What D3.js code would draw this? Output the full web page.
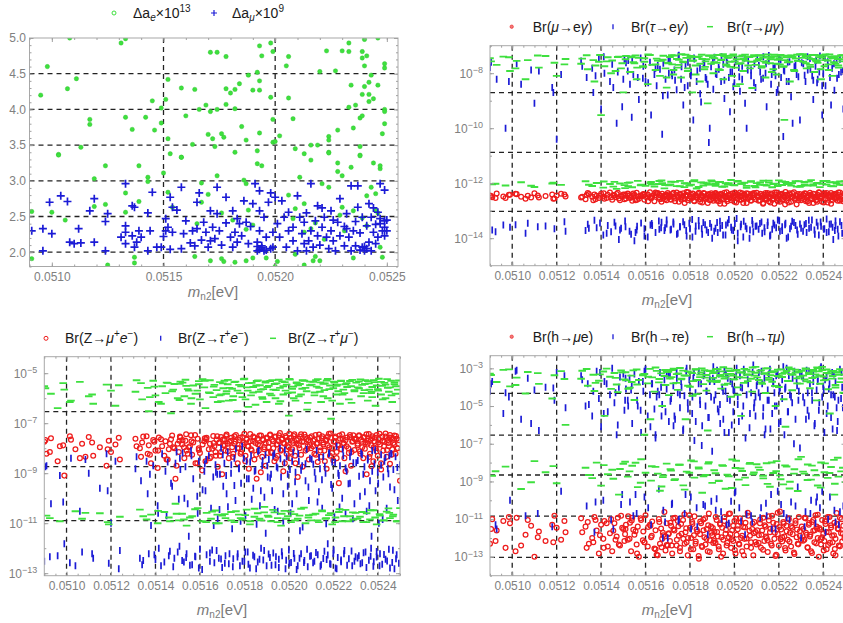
<!DOCTYPE html>
<html>
<head>
<meta charset="utf-8">
<script src="https://cdnjs.cloudflare.com/ajax/libs/d3/7.8.5/d3.min.js"></script>
<style>
body { margin: 0; background: #fff; }
text { font-family: "Liberation Sans", Arial, sans-serif; }
</style>
</head>
<body>
<script>
// ---- top-left panel: [m_n2, value] pairs
var aeData = [[0.05108,5.0],[0.05131,4.93],[0.05133,4.99],[0.05098,4.60],[0.05095,4.20],[0.05107,4.29],[0.05111,4.43],[0.05117,3.86],[0.05117,3.79],[0.05133,3.89],[0.05136,3.72],[0.05142,3.89],[0.05145,4.12],[0.05146,3.71],[0.05149,3.81],[0.05149,4.02],[0.05151,4.14],[0.05152,4.42],[0.05152,3.59],[0.05153,3.38],[0.05158,4.30],[0.05160,3.91],[0.05163,3.51],[0.05164,4.28],[0.05158,3.33],[0.05166,4.00],[0.05169,4.06],[0.05170,3.65],[0.05171,3.97],[0.05171,4.80],[0.05174,4.80],[0.05174,4.00],[0.05172,3.59],[0.05173,3.48],[0.05176,3.66],[0.05178,4.29],[0.05178,4.74],[0.05178,4.07],[0.05177,3.61],[0.05180,4.23],[0.05182,4.28],[0.05182,4.01],[0.05184,4.36],[0.05185,3.76],[0.05187,3.57],[0.05188,4.48],[0.05190,4.27],[0.05192,4.52],[0.05193,4.89],[0.05193,4.40],[0.05193,4.27],[0.05194,4.75],[0.05193,3.67],[0.05192,3.42],[0.05198,4.17],[0.05198,4.93],[0.05199,4.81],[0.05199,3.86],[0.05199,3.54],[0.05200,3.55],[0.05202,3.63],[0.05205,4.61],[0.05206,4.74],[0.05206,4.16],[0.05208,3.87],[0.05209,3.45],[0.05213,3.38],[0.05216,3.50],[0.05219,3.50],[0.05220,4.53],[0.05223,4.82],[0.05227,4.54],[0.05228,3.71],[0.05224,3.62],[0.05224,3.57],[0.05224,3.40],[0.05230,4.82],[0.05233,4.93],[0.05233,4.81],[0.05233,4.03],[0.05234,4.34],[0.05235,3.74],[0.05236,4.06],[0.05238,3.88],[0.05238,3.48],[0.05238,3.36],[0.05239,4.21],[0.05239,4.81],[0.05239,4.72],[0.05240,4.61],[0.05239,3.91],[0.05240,4.32],[0.05240,4.98],[0.05241,4.75],[0.05242,4.38],[0.05242,4.11],[0.05242,4.21],[0.05243,4.48],[0.05244,4.15],[0.05246,5.0],[0.05246,4.34],[0.05248,3.66],[0.05249,3.80],[0.05249,4.64],[0.05249,4.58],[0.05249,4.00],[0.05249,3.97],[0.05103,3.37],[0.05113,3.47],
  [0.05103,3.36],[0.05124,3.21],[0.05119,3.03],[0.05133,2.83],[0.05139,3.21],[0.05143,3.05],[0.05143,2.99],[0.05139,2.71],[0.05150,3.11],[0.05091,2.57],[0.05100,2.56],[0.05106,2.45],[0.05124,2.67],[0.05133,2.56],[0.05119,2.64],[0.05091,1.91],[0.05125,1.82],[0.05137,1.93],[0.05137,1.85],[0.05152,2.84],[0.05154,2.63],[0.05158,3.33],[0.05167,2.97],[0.05167,2.70],[0.05170,2.81],[0.05174,3.07],[0.05176,2.55],[0.05182,3.40],[0.05186,3.01],[0.05187,2.96],[0.05192,3.24],[0.05194,3.21],[0.05188,2.59],[0.05187,2.32],[0.05164,1.94],[0.05171,1.88],[0.05176,1.91],[0.05177,1.87],[0.05182,1.86],[0.05187,1.88],[0.05190,1.92],[0.05196,1.92],[0.05200,1.80],[0.05201,1.87],[0.05206,2.80],[0.05208,2.47],[0.05209,1.97],[0.05211,3.05],[0.05213,2.68],[0.05213,1.82],[0.05216,3.29],[0.05217,1.88],[0.05218,1.94],[0.05220,1.88],[0.05221,2.96],[0.05224,3.39],[0.05224,2.91],[0.05228,3.25],[0.05228,3.13],[0.05230,3.07],[0.05230,2.63],[0.05231,2.30],[0.05234,3.19],[0.05235,2.58],[0.05235,1.92],[0.05238,3.35],[0.05239,2.48],[0.05241,2.79],[0.05243,2.91],[0.05245,2.82],[0.05244,3.25],[0.05247,3.17],[0.05247,3.21],[0.05247,2.07],[0.05248,1.93],[0.05245,2.59],
  [0.05213,2.28],[0.05216,2.33],[0.05209,2.61],[0.05222,2.18],[0.05218,2.41],[0.05181,2.45],[0.05165,2.40],[0.05190,2.38],[0.05229,2.52],[0.05241,2.37],[0.05246,2.55]];

var amuData = [[0.05091,2.30],[0.05096,2.33],[0.05096,2.02],[0.05099,2.70],[0.05100,2.26],[0.05104,2.79],[0.05107,2.71],[0.05108,2.14],[0.05110,2.12],[0.05112,2.33],[0.05113,2.13],[0.05117,2.58],[0.05119,2.14],[0.05119,2.75],[0.05124,2.02],[0.05124,2.43],[0.05125,2.54],[0.05131,2.21],[0.05133,2.28],[0.05133,2.37],[0.05133,2.12],[0.05133,2.96],[0.05136,2.65],[0.05137,2.63],[0.05136,2.23],[0.05137,2.07],[0.05138,2.14],[0.05139,2.30],[0.05140,2.21],[0.05143,2.02],[0.05143,2.55],[0.05144,2.30],[0.05145,2.84],[0.05147,2.07],[0.05149,2.07],[0.05150,2.22],[0.05151,2.47],[0.05151,2.30],[0.05152,2.35],[0.05153,2.77],[0.05153,2.04],[0.05154,2.28],[0.05154,2.63],[0.05156,2.59],[0.05158,2.91],[0.05158,2.05],[0.05159,2.26],[0.05160,2.44],[0.05162,2.13],[0.05163,2.30],[0.05164,2.09],[0.05165,2.70],[0.05165,2.33],[0.05166,2.83],[0.05167,2.17],[0.05168,2.42],[0.05169,2.28],[0.05170,2.07],[0.05171,2.16],[0.05171,2.58],[0.05172,2.35],[0.05173,2.19],[0.05174,2.91],[0.05174,2.54],[0.05175,2.30],[0.05176,2.10],[0.05178,2.77],[0.05178,2.41],[0.05180,2.21],[0.05181,2.58],[0.05181,2.07],[0.05182,2.28],[0.05183,2.14],[0.05183,2.47],[0.05184,2.40],[0.05185,2.23],[0.05186,2.72],[0.05187,2.42],[0.05188,2.12],[0.05189,2.36],[0.05190,2.68],[0.05191,2.96],[0.05192,2.14],[0.05192,2.02],[0.05193,2.86],[0.05193,2.58],[0.05193,2.30],[0.05194,2.09],[0.05195,2.02],[0.05195,2.49],[0.05196,2.21],[0.05197,2.70],[0.05198,2.83],[0.05199,2.28],[0.05199,2.07],[0.05200,2.77],[0.05201,2.40],[0.05202,2.21],[0.05203,2.72],[0.05204,2.49],[0.05205,2.07],[0.05206,2.30],[0.05206,2.56],[0.05208,2.16],[0.05208,2.35],[0.05210,2.02],[0.05210,2.79],[0.05211,2.49],[0.05212,2.26],[0.05213,2.12],[0.05213,2.42],[0.05214,2.02],[0.05215,2.16],[0.05216,2.96],[0.05216,2.30],[0.05217,2.07],[0.05218,2.44],[0.05219,2.65],[0.05219,2.23],[0.05220,2.10],[0.05221,2.35],[0.05222,2.49],[0.05223,2.21],[0.05224,2.05],[0.05225,2.58],[0.05225,2.30],[0.05226,2.16],[0.05227,2.02],[0.05228,2.42],[0.05229,2.75],[0.05229,2.23],[0.05231,2.36],[0.05231,2.09],[0.05232,2.54],[0.05233,2.21],[0.05234,2.02],[0.05234,2.93],[0.05235,2.30],[0.05236,2.43],[0.05236,2.09],[0.05237,2.93],[0.05237,2.63],[0.05238,2.27],[0.05239,2.07],[0.05239,2.49],[0.05240,2.02],[0.05241,2.37],[0.05242,2.68],[0.05242,2.14],[0.05243,2.02],[0.05243,2.49],[0.05244,2.28],[0.05245,2.12],[0.05245,2.39],[0.05246,2.56],[0.05246,2.21],[0.05247,2.96],[0.05247,2.47],[0.05248,2.30],[0.05249,2.44],[0.05249,2.87],[0.05249,2.35],[0.05249,2.23],[0.05198,2.05],
  [0.05193,2.04],[0.05194,2.06],[0.05196,2.03],[0.05192,2.08],[0.05241,2.05],[0.05240,2.08],[0.05238,2.03],[0.05214,2.55],[0.05221,2.62],[0.05226,2.45],[0.05232,2.33],[0.05244,2.62],[0.05247,2.40],[0.05250,2.30],[0.05250,2.45]];

// ---- scan points shared by the three log panels (m_n2 in eV)
var mn2 = [
  0.05090,0.05091,0.05093,0.05096,0.05097,0.05099,0.05102,0.05104,0.05106,0.05107,0.05110,0.05112,0.05115,0.05118,0.05119,0.05120,0.05122,0.05124,
  0.05131,0.05133,0.051335,0.05134,0.05136,0.051365,0.05137,0.05138,0.05139,0.05140,0.05141,0.051415,0.05143,0.05144,0.051445,0.05145,0.05146,0.05147,0.05148,0.05149,0.05150,0.051505,
  0.05151,0.05152,0.05153,0.051535,0.05154,0.05155,0.05156,0.051565,0.05157,0.05158,0.05159,0.051595,0.05160,0.05161,0.05162,0.051625,0.05163,0.05164,0.051645,0.05165,0.05166,0.051665,0.05167,0.051675,0.05168,0.051685,0.05169,0.051695,0.05170,0.051705,
  0.05171,0.051715,0.05172,0.051725,0.05173,0.05174,0.051745,0.05175,0.051755,0.05176,0.05177,0.051775,0.05178,0.051785,0.05179,0.05180,0.051805,0.05181,0.051815,0.05182,0.051825,0.05183,0.05184,0.051845,0.05185,0.051855,0.05186,0.051865,0.05187,0.051875,0.05188,0.051885,0.05189,0.051895,0.05190,0.051905,
  0.05191,0.051915,0.05192,0.051925,0.05193,0.051935,0.05194,0.051945,0.05195,0.051955,0.05196,0.051965,0.05197,0.051975,0.05198,0.051985,0.05199,0.051995,0.05200,0.052005,0.05201,0.052015,0.05202,0.052025,0.05203,0.052035,0.05204,0.052045,0.05205,0.052055,0.05206,0.05207,0.052075,0.05208,0.052085,0.05209,0.052095,0.05210,
  0.05211,0.052115,0.05212,0.052125,0.05213,0.052135,0.05214,0.052145,0.05215,0.052155,0.05216,0.052165,0.05217,0.052175,0.05218,0.052185,0.05219,0.052195,0.05220,0.052205,0.05221,0.052215,0.05222,0.052225,0.05223,0.052235,0.05224,0.052245,0.05225,0.052255,0.05226,0.05227,0.052275,0.05228,0.052285,0.05229,0.052295,0.05230,
  0.05231,0.052315,0.05232,0.052325,0.05233,0.052335,0.05234,0.052345,0.05235,0.052355,0.05236,0.052365,0.05237,0.052375,0.05238,0.052385,0.05239,0.052395,0.05240,0.052405,0.05241,0.052415,0.05242,0.052425,0.05243,0.052435,0.05244,0.052445,0.05245,0.052455,0.05246,0.052465,0.05247,0.052475,0.05248,0.052485,0.05249,0.05250,
  // second batch
  0.050905,0.050925,0.050985,0.051015,0.051085,0.051115,0.051185,0.051235,
  0.051315,0.051345,0.051375,0.051395,0.051412,0.051425,0.051455,0.051465,0.051475,0.051485,0.051495,0.051508,
  0.051512,0.051528,0.051545,0.051562,0.051578,0.051595,0.051612,0.051628,0.051645,0.051662,0.051678,0.051695,0.051522,0.051555,0.051588,0.051622,0.051655,0.051688,0.051538,0.051672,
  0.051703,0.051712,0.051718,0.051726,0.051733,0.051741,0.051748,0.051755,0.051762,0.051769,0.051776,0.051783,0.051791,0.051797,0.051804,0.051811,0.051818,0.051826,0.051833,0.051839,0.051846,0.051853,0.051861,0.051868,0.051874,0.051882,0.051889,0.051896,
  0.051903,0.051909,0.051916,0.051922,0.051929,0.051936,0.051942,0.051949,0.051955,0.051962,0.051968,0.051975,0.051982,0.051988,0.051995,0.052002,0.052008,0.052015,0.052022,0.052028,0.052035,0.052042,0.052048,0.052055,0.052062,0.052068,0.052075,0.052082,0.052088,0.052095,
  0.052103,0.052109,0.052116,0.052122,0.052129,0.052136,0.052142,0.052149,0.052155,0.052162,0.052168,0.052175,0.052182,0.052188,0.052195,0.052202,0.052208,0.052215,0.052222,0.052228,0.052235,0.052242,0.052248,0.052255,0.052262,0.052268,0.052275,0.052282,0.052288,0.052295,
  0.052303,0.052309,0.052316,0.052322,0.052329,0.052336,0.052342,0.052349,0.052355,0.052362,0.052368,0.052375,0.052382,0.052388,0.052395,0.052402,0.052408,0.052415,0.052422,0.052428,0.052435,0.052442,0.052448,0.052455,0.052462,0.052468,0.052475,0.052482,0.052488,0.052495,0.052372,0.052452];

// Br(mu -> e gamma)
var brMuEGamma = [
  3.6e-13,3.1e-13,4.2e-13,3.3e-13,2.9e-13,3.8e-13,4.0e-13,3.2e-13,2.7e-13,3.5e-13,4.3e-13,3.0e-13,3.4e-13,3.9e-13,2.8e-13,3.6e-13,4.1e-13,3.3e-13,
  3.0e-13,2.6e-13,3.7e-13,4.4e-13,3.2e-13,2.4e-13,3.9e-13,3.5e-13,2.9e-13,4.1e-13,3.3e-13,2.7e-13,3.8e-13,4.6e-13,3.1e-13,2.5e-13,3.6e-13,4.0e-13,2.8e-13,3.4e-13,3.9e-13,2.6e-13,
  3.5e-13,4.2e-13,2.9e-13,3.1e-13,2.3e-13,3.8e-13,4.5e-13,3.3e-13,2.7e-13,3.6e-13,4.0e-13,2.5e-13,3.2e-13,3.9e-13,4.7e-13,2.8e-13,3.4e-13,2.2e-13,3.7e-13,4.3e-13,3.0e-13,2.6e-13,3.5e-13,4.1e-13,2.9e-13,3.3e-13,3.8e-13,2.4e-13,4.4e-13,3.1e-13,
  3.6e-13,2.5e-13,4.0e-13,3.2e-13,2.8e-13,4.6e-13,3.4e-13,2.1e-13,3.9e-13,3.0e-13,4.3e-13,2.7e-13,3.5e-13,4.8e-13,2.4e-13,3.3e-13,3.8e-13,2.9e-13,4.1e-13,2.2e-13,3.6e-13,3.1e-13,4.5e-13,2.6e-13,3.7e-13,2.0e-13,3.3e-13,4.2e-13,2.8e-13,3.5e-13,1.9e-13,4.0e-13,3.2e-13,2.5e-13,3.8e-13,2.3e-13,
  3.4e-13,4.4e-13,2.7e-13,3.9e-13,2.2e-13,3.1e-13,4.1e-13,2.9e-13,3.6e-13,1.8e-13,3.3e-13,4.7e-13,2.6e-13,3.8e-13,3.0e-13,2.4e-13,4.2e-13,3.5e-13,2.1e-13,3.7e-13,4.0e-13,2.8e-13,3.2e-13,4.6e-13,2.5e-13,3.6e-13,1.9e-13,3.9e-13,3.1e-13,4.3e-13,2.7e-13,3.4e-13,2.3e-13,4.1e-13,3.0e-13,3.7e-13,2.6e-13,4.5e-13,
  3.2e-13,2.4e-13,4.0e-13,3.6e-13,1.9e-13,3.3e-13,4.4e-13,2.7e-13,3.8e-13,2.2e-13,3.0e-13,4.2e-13,2.5e-13,3.5e-13,1.8e-13,3.9e-13,4.6e-13,2.8e-13,3.4e-13,2.1e-13,3.7e-13,4.1e-13,2.6e-13,3.1e-13,4.8e-13,2.3e-13,3.6e-13,2.0e-13,3.9e-13,3.2e-13,4.3e-13,2.7e-13,3.5e-13,1.7e-13,4.0e-13,2.9e-13,3.3e-13,2.4e-13,
  3.8e-13,2.6e-13,4.2e-13,3.1e-13,2.2e-13,3.6e-13,4.5e-13,2.9e-13,3.4e-13,1.9e-13,4.0e-13,3.2e-13,2.5e-13,3.7e-13,4.7e-13,2.8e-13,3.3e-13,2.1e-13,3.9e-13,4.3e-13,2.7e-13,3.5e-13,2.0e-13,3.8e-13,3.1e-13,4.4e-13,2.4e-13,3.6e-13,2.9e-13,4.1e-13,3.0e-13,2.3e-13,3.7e-13,4.6e-13,2.6e-13,3.4e-13,2.2e-13,3.9e-13,
  3.4e-13,2.9e-13,3.8e-13,4.1e-13,3.0e-13,3.6e-13,2.7e-13,3.9e-13,
  3.2e-13,4.0e-13,2.6e-13,3.5e-13,4.3e-13,2.9e-13,3.7e-13,3.1e-13,4.5e-13,2.4e-13,3.3e-13,3.9e-13,
  2.8e-13,3.6e-13,4.2e-13,2.5e-13,3.4e-13,3.9e-13,2.2e-13,3.1e-13,4.6e-13,3.7e-13,2.7e-13,3.3e-13,4.0e-13,2.4e-13,3.8e-13,3.0e-13,4.4e-13,2.6e-13,3.5e-13,2.1e-13,
  3.9e-13,2.6e-13,3.3e-13,4.5e-13,2.2e-13,3.7e-13,3.0e-13,4.1e-13,2.5e-13,3.4e-13,1.9e-13,3.8e-13,4.7e-13,2.8e-13,3.2e-13,4.2e-13,2.3e-13,3.6e-13,2.9e-13,4.0e-13,2.1e-13,3.5e-13,4.4e-13,2.7e-13,3.1e-13,3.8e-13,2.4e-13,4.3e-13,
  2.9e-13,3.7e-13,4.2e-13,2.3e-13,3.4e-13,1.8e-13,3.9e-13,2.6e-13,4.5e-13,3.1e-13,2.2e-13,3.6e-13,4.0e-13,2.8e-13,3.3e-13,4.6e-13,2.0e-13,3.8e-13,2.5e-13,3.2e-13,4.3e-13,2.7e-13,3.5e-13,1.9e-13,4.1e-13,3.0e-13,2.4e-13,3.7e-13,4.4e-13,2.6e-13,
  3.5e-13,2.3e-13,4.1e-13,3.0e-13,1.8e-13,3.7e-13,2.6e-13,4.4e-13,3.2e-13,2.0e-13,3.9e-13,2.8e-13,4.6e-13,3.3e-13,2.2e-13,3.6e-13,4.0e-13,2.5e-13,3.4e-13,1.7e-13,3.8e-13,2.9e-13,4.3e-13,2.1e-13,3.1e-13,4.7e-13,2.7e-13,3.5e-13,2.4e-13,4.0e-13,
  2.8e-13,3.6e-13,4.3e-13,2.2e-13,3.3e-13,1.9e-13,3.8e-13,2.6e-13,4.1e-13,3.0e-13,2.4e-13,3.7e-13,4.5e-13,2.9e-13,3.2e-13,2.0e-13,3.9e-13,4.4e-13,2.5e-13,3.4e-13,1.8e-13,3.6e-13,4.0e-13,2.7e-13,3.1e-13,4.6e-13,2.3e-13,3.5e-13,2.9e-13,4.2e-13,2.1e-13,3.8e-13];

// Br(tau -> e gamma)
var brTauEGamma = [
  1.6e-8,2e-14,6e-9,3e-14,1e-10,2.5e-14,2.2e-8,4e-9,1.5e-14,3.5e-14,8e-10,1.2e-8,2.8e-14,3e-9,2.2e-14,4e-11,9e-9,1.8e-14,
  2.8e-8,1.9e-14,7e-9,3.2e-14,1.5e-8,2e-9,4.5e-14,2.4e-14,3.5e-8,5e-10,1.3e-14,1e-8,2.9e-14,5e-9,1.7e-14,2.1e-8,3.8e-14,1.5e-10,9e-15,2.3e-14,6e-9,3e-8,
  2.6e-14,1.2e-8,4e-9,1.4e-14,3.2e-8,8e-15,2e-14,7e-9,1.1e-9,3.6e-14,1.8e-8,2.2e-14,5e-9,1.1e-14,2.5e-8,3e-10,2.9e-14,9e-9,1.6e-14,3.5e-9,4.2e-14,1.4e-8,2.4e-14,6e-11,2.3e-8,1.9e-14,6e-9,3.3e-14,1.6e-9,1e-8,
  2.7e-8,2.1e-14,8e-9,3.9e-14,1.3e-8,2.5e-9,1.5e-14,4.5e-8,2.6e-14,6e-9,7e-10,3.1e-14,1.9e-8,1.2e-14,3.5e-9,2.2e-14,1.1e-8,4.8e-14,2e-10,3.3e-8,1.8e-14,5e-9,2.8e-14,1.5e-8,9e-10,1.4e-14,3.7e-14,2.4e-8,7e-9,2e-14,4e-9,3e-11,3.4e-14,1.7e-8,1e-14,2.6e-9,
  3.8e-8,2.3e-14,9e-9,1.6e-14,1.4e-8,4.1e-14,5e-9,2.9e-14,2.1e-8,1.2e-9,1.3e-14,3e-8,3.6e-14,7e-9,4e-10,2.5e-14,1.1e-8,1.9e-14,4.5e-9,2.6e-8,5.2e-14,8e-15,1.6e-8,2.2e-9,3.2e-14,6e-9,1.1e-14,3.5e-8,2.7e-14,1e-10,1.3e-8,2e-14,8e-9,4.4e-14,1.7e-14,2.2e-8,3e-9,2.8e-14,
  1.9e-8,3.4e-14,6e-9,1.5e-14,4e-8,2.4e-14,1e-8,6e-10,3.9e-14,2.8e-8,1.2e-14,4e-9,2.1e-14,1.5e-8,3e-14,8e-9,2e-9,4.6e-14,3.2e-8,1.8e-14,7e-9,2.6e-14,5e-11,1.2e-8,3.5e-14,1e-14,2.5e-8,5e-9,2.2e-14,1.4e-9,4.1e-14,1.7e-8,2.9e-14,9e-9,1.4e-14,3.7e-8,2e-10,2.3e-14,
  2.2e-8,3.1e-14,5e-9,1.6e-14,1.3e-8,4.5e-14,3.4e-8,2.5e-14,8e-9,1.1e-9,2e-14,1.8e-8,3.8e-14,6e-9,1.3e-14,4.2e-8,2.7e-14,3e-10,1e-8,2.2e-14,3.5e-9,5e-14,2.6e-8,1.7e-14,7e-9,3.3e-14,1.5e-8,9e-15,2.4e-9,2.9e-14,3e-8,2.1e-14,9e-9,4e-14,1.1e-8,1.5e-14,5e-10,2.6e-14,
  2.5e-8,1.7e-14,5e-9,3.1e-14,1.3e-8,2.6e-14,2e-9,4e-14,
  1.8e-8,2.3e-14,8e-9,3.6e-14,4e-8,1.5e-14,3e-9,2.8e-14,1.1e-8,2e-14,6e-10,4.2e-14,
  2.4e-8,1.8e-14,9e-9,2.7e-14,3.6e-8,1.2e-14,4.5e-9,3.4e-14,1.5e-8,2.1e-14,1.5e-9,4.6e-14,2.9e-8,1.6e-14,6.5e-9,3e-14,1.9e-8,2.4e-14,2.5e-10,3.8e-14,
  3.1e-8,2e-14,1e-8,3.3e-14,5.5e-9,1.4e-14,4.3e-8,2.6e-14,1.7e-8,4e-14,3e-9,1.9e-14,2.5e-8,3.5e-14,8e-9,1.1e-14,3.6e-8,2.8e-14,1.2e-8,4.4e-14,1.8e-9,2.2e-14,2.2e-8,3.1e-14,6e-9,1.6e-14,1e-10,2.5e-14,
  2.8e-8,1.8e-14,9.5e-9,3.7e-14,1.6e-8,2.3e-14,4e-8,1.3e-14,5.5e-9,3e-14,2.3e-8,4.8e-14,1.1e-8,2e-14,3.2e-9,3.4e-14,3.3e-8,1.5e-14,7.5e-9,2.6e-14,1.8e-8,4.1e-14,8e-10,2.2e-14,2.7e-8,1e-14,1.3e-8,3.2e-14,4.5e-9,2.7e-14,
  3.5e-8,2.1e-14,1.1e-8,3.9e-14,6.5e-9,1.7e-14,2.2e-8,2.9e-14,4.4e-8,1.3e-14,9e-9,3.5e-14,1.6e-8,2.4e-14,2.5e-9,4.3e-14,3e-8,1.9e-14,1.3e-8,3.1e-14,5e-9,1.1e-14,2.6e-8,2.7e-14,1.5e-10,3.7e-14,1.9e-8,2e-14,7.5e-9,3.3e-14,
  2.4e-8,1.8e-14,8.5e-9,3.4e-14,4e-8,2.3e-14,1.4e-8,4.6e-14,5.5e-9,1.4e-14,2.9e-8,2.8e-14,1.1e-8,3.9e-14,3.5e-9,2.1e-14,3.6e-8,1.6e-14,1.7e-8,3.2e-14,7e-10,2.5e-14,2.2e-8,4.2e-14,6.5e-9,1.2e-14,3.2e-8,2.9e-14,1.2e-8,3.6e-14,4.5e-9,1.9e-14];

// Br(tau -> mu gamma)
var brTauMuGamma = [
  3.5e-8,9.1e-13,2e-8,4e-8,8.2e-13,1.2e-8,2.8e-8,1.08e-12,6e-9,3e-8,7.3e-13,1.6e-8,4.2e-8,9.8e-13,2.4e-8,8e-9,8.7e-13,3.3e-8,
  2.2e-8,1.18e-12,4.5e-8,1.4e-8,7.9e-13,3e-8,5e-9,1.02e-12,2.6e-8,3e-10,6.9e-13,1.8e-8,3.8e-8,9.4e-13,1e-8,2.9e-8,1.12e-12,6.2e-13,4e-8,1.5e-8,2e-9,8.5e-13,
  3.2e-8,1.03e-12,1.1e-8,4.1e-8,7.1e-13,2.3e-8,6e-9,1.22e-12,3.6e-8,8.9e-13,1.7e-8,2.6e-8,8.1e-13,4e-9,4.6e-8,1.1e-12,2e-8,7.6e-13,1.3e-8,3.4e-8,9.3e-13,8e-9,2.8e-8,1.01e-12,4.3e-8,6.5e-13,1.5e-8,3e-9,2.4e-8,8.4e-13,
  3.9e-8,1.13e-12,2.1e-8,9e-9,4.4e-8,7.8e-13,1.6e-8,3.1e-8,1.21e-12,7e-9,2.5e-8,7.2e-13,4.7e-8,9.7e-13,1.2e-8,3.7e-8,8.8e-13,2e-9,2.9e-8,1.28e-12,1.9e-8,6.4e-13,4e-8,5e-9,1.07e-12,3.3e-8,8.3e-13,1.4e-8,2.7e-8,1e-12,8e-10,4.3e-8,9.2e-13,2.2e-8,1.16e-12,1e-8,
  3.5e-8,8.1e-13,2.4e-8,4.6e-8,1.09e-12,1.3e-8,3e-8,7.4e-13,6e-9,4.2e-8,9.9e-13,1.9e-8,9e-13,3.7e-8,2.6e-8,1.3e-12,8e-9,4.8e-8,8.4e-13,1.6e-8,3.2e-8,1.14e-12,2.2e-8,4e-9,9.5e-13,4.4e-8,1.2e-8,1.04e-12,2.8e-8,6.8e-13,3.9e-8,1.5e-8,1.19e-12,2.9e-9,4.1e-8,7.9e-13,2e-8,1.01e-12,
  3.3e-8,8.8e-13,4.5e-8,1.8e-8,1.23e-12,2.7e-8,7e-9,8.2e-13,4e-8,1.06e-12,2.3e-8,3.6e-8,7.1e-13,1.4e-8,4.7e-8,9.6e-13,9e-9,3.1e-8,1.27e-12,2.1e-8,4.3e-8,8.6e-13,1.7e-8,2e-10,1.11e-12,3.8e-8,2.5e-8,9.3e-13,5e-9,4.4e-8,1.02e-12,1.2e-8,3.4e-8,7.5e-13,2.8e-8,1.17e-12,4.9e-8,8e-13,
  2.6e-8,1.1e-12,4.2e-8,1.5e-8,8.3e-13,3.5e-8,2e-8,1.29e-12,4.6e-8,9.1e-13,1.1e-8,3e-8,1e-12,2.4e-8,4.4e-8,7.2e-13,6e-9,3.7e-8,1.2e-12,1.8e-8,4.8e-8,8.9e-13,2.9e-8,1.3e-8,1.08e-12,3.9e-8,8e-9,7.7e-13,4.1e-8,2.2e-8,9.8e-13,3.3e-8,1.6e-8,1.15e-12,4.5e-8,2.7e-8,8.6e-13,3.8e-8,
  2.7e-8,9.5e-13,3.8e-8,1.5e-8,8.1e-13,4.4e-8,1.05e-12,2.1e-8,
  3.4e-8,8.8e-13,1.9e-8,4.6e-8,1.15e-12,2.7e-8,7.5e-13,1.2e-8,3.9e-8,9.7e-13,2.3e-8,6.6e-13,
  4.2e-8,1.07e-12,2.5e-8,1.6e-8,8.4e-13,3.5e-8,4.8e-8,9.2e-13,2.1e-8,1.2e-12,3.1e-8,7e-9,7.8e-13,4.4e-8,1.8e-8,1.01e-12,2.9e-8,8.6e-13,3.8e-8,1.25e-12,
  2.3e-8,9e-13,4.5e-8,1.3e-8,1.12e-12,3.3e-8,2e-8,7.7e-13,4.9e-8,2.6e-8,9.9e-13,3.6e-8,1.5e-8,8.2e-13,4.2e-8,2.8e-8,1.18e-12,9e-9,3.9e-8,7.3e-13,2.2e-8,4.7e-8,1.04e-12,1.7e-8,3.2e-8,8.9e-13,4.4e-8,1.26e-12,
  3.8e-8,2.5e-8,9.4e-13,4.6e-8,1.4e-8,1.1e-12,3.1e-8,4.9e-8,7.6e-13,2.1e-8,3.6e-8,1.01e-12,1.7e-8,4.3e-8,8.5e-13,2.7e-8,3.4e-9,1.21e-12,4e-8,2.3e-8,9.6e-13,3.3e-8,4.7e-8,8e-13,1.9e-8,3.9e-8,1.13e-12,2.6e-8,4.5e-8,7.1e-13,
  2.9e-8,4.4e-8,1.06e-12,1.6e-8,3.7e-8,8.7e-13,2.4e-8,4.8e-8,1.24e-12,3.2e-8,1.1e-8,9.3e-13,4.1e-8,2.2e-8,7.9e-13,3.5e-8,4.6e-8,1.15e-12,1.8e-8,3e-8,9.8e-13,4.3e-8,2.6e-8,8.3e-13,3.9e-8,1.3e-8,1.19e-12,4.7e-8,2.8e-8,7.4e-13,
  3.6e-8,4.9e-8,9.1e-13,2.3e-8,4.2e-8,1.14e-12,1.7e-8,3.3e-8,8.2e-13,4.6e-8,2.7e-8,1.02e-12,3.8e-8,1.4e-8,9.5e-13,4.4e-8,3e-8,1.22e-12,2.1e-8,4.8e-8,7.8e-13,3.5e-8,2.5e-8,1.08e-12,4.1e-8,1.9e-8,8.8e-13,3.2e-8,4.5e-8,1.17e-12,2.8e-8,3.9e-8];

// Br(Z -> mu+ e-)
var brZMuE = [
  1.8e-8,6e-9,2.5e-8,3e-9,1.2e-8,8e-10,2.2e-8,9e-9,4e-9,1.5e-8,2.8e-8,5e-9,1.1e-8,2e-9,2e-8,7e-9,1.4e-8,3.5e-9,
  2.4e-8,1e-8,4.5e-9,1.7e-8,3e-8,6e-9,1.3e-8,2.5e-9,2.1e-8,8e-9,1.6e-9,2.7e-8,1.2e-8,5e-9,1.9e-8,3.5e-9,9e-9,2.3e-8,1.1e-8,6e-10,1.5e-8,7e-9,
  2.9e-8,1.4e-8,4e-9,2e-8,8e-9,1.1e-8,3.3e-8,5.5e-9,1.7e-8,2.5e-9,2.4e-8,1e-8,6.5e-9,1.3e-9,1.9e-8,3e-9,2.6e-8,9e-9,1.5e-8,4.5e-9,3.1e-8,1.2e-8,7e-9,2.2e-8,1.8e-9,1.6e-8,5e-9,2.8e-8,9e-10,1.3e-8,
  2.3e-8,8e-9,3.5e-8,1.5e-8,4e-9,2e-8,1.1e-8,6e-9,3e-8,1.8e-8,2.5e-9,1e-8,2.6e-8,7e-9,1.4e-8,3.8e-8,5e-9,2.2e-8,1.2e-8,1.5e-9,1.9e-8,9e-9,2.9e-8,3.5e-9,1.6e-8,6e-10,2.4e-8,8e-9,1.3e-8,3.2e-8,4.5e-9,2.1e-8,1.1e-8,2e-9,2.7e-8,6.5e-9,
  1.7e-8,3.3e-8,7e-9,2.2e-8,1e-8,3e-9,2.8e-8,1.4e-8,5e-9,1.9e-8,4e-8,8e-9,2.4e-8,1.2e-9,1.5e-8,3.1e-8,6e-9,2e-8,1.1e-8,4e-9,2.6e-8,9e-9,1.6e-8,3.6e-8,2.5e-9,2.1e-8,7e-10,1.3e-8,2.9e-8,5.5e-9,1.8e-8,3.5e-8,8e-9,2.3e-8,1.2e-8,3.5e-9,2.7e-8,1e-8,
  2e-8,6e-9,3.4e-8,1.5e-8,2.8e-9,2.5e-8,1.1e-8,4.5e-9,3e-8,1.7e-8,8e-9,2.2e-8,1.5e-9,1.3e-8,3.8e-8,5e-9,2.6e-8,1e-8,3.2e-9,1.9e-8,2.9e-8,7e-9,1.4e-8,4e-10,2.4e-8,9e-9,3.6e-8,1.6e-8,4e-9,2.1e-8,1.2e-8,6.5e-9,2.8e-8,2e-9,1.8e-8,3.3e-8,8.5e-9,2.3e-8,
  1.5e-8,3.1e-8,7.5e-9,2.2e-8,1.1e-8,4e-9,2.7e-8,1.7e-8,9e-10,2e-8,3.7e-8,6e-9,1.3e-8,2.5e-8,3e-9,1.9e-8,1e-8,3.4e-8,5e-9,2.3e-8,1.4e-8,1.4e-9,2.9e-8,8e-9,1.8e-8,3.9e-8,4.5e-9,2.1e-8,1.2e-8,2.4e-9,2.6e-8,9e-9,1.6e-8,3.2e-8,6e-9,2.4e-8,1e-8,5e-10,
  2.1e-8,7e-9,1.3e-8,3e-8,4.5e-9,1.7e-8,9e-9,2.6e-8,
  1.2e-8,2.9e-8,5.5e-9,1.8e-8,8e-9,2.3e-8,3.5e-9,1.5e-8,3.2e-8,1e-8,2e-9,2e-8,
  2.7e-8,1.1e-8,6e-9,1.9e-8,3.4e-8,8.5e-9,1.4e-8,2.3e-8,4e-9,1.6e-8,3e-8,7e-9,2.1e-8,1.2e-8,2.5e-9,2.5e-8,9.5e-9,1.7e-8,3.6e-8,5e-9,
  2.2e-8,1.3e-8,3.1e-8,7.5e-9,1.8e-8,2.6e-8,4.5e-9,1.5e-8,3.4e-8,1e-8,2.1e-8,6e-9,2.8e-8,1.7e-8,3e-9,2.4e-8,1.2e-8,3.7e-8,8e-9,1.9e-8,2.7e-8,5.5e-9,1.4e-8,3.2e-8,1.1e-9,2.3e-8,9e-9,1.6e-8,
  2.5e-8,1.1e-8,3.5e-8,6.5e-9,1.9e-8,2.9e-8,4e-9,1.4e-8,3.3e-8,8.5e-9,2.2e-8,1.6e-8,2.5e-9,2.7e-8,1.2e-8,3.8e-8,7e-9,2e-8,3.1e-8,5e-9,1.5e-8,2.4e-8,1e-8,3.6e-8,1.8e-9,1.8e-8,2.8e-8,9e-9,2.1e-8,1.3e-8,
  3e-8,1.2e-8,2.2e-8,5.5e-9,1.6e-8,3.5e-8,8e-9,2.5e-8,1.4e-8,3e-9,2e-8,2.9e-8,1.1e-8,3.9e-8,6.5e-9,1.8e-8,2.6e-8,4e-9,1.3e-8,3.2e-8,9e-9,2.3e-8,1.5e-8,1.2e-9,2.7e-8,1e-8,3.4e-8,7e-9,1.9e-8,2.4e-8,
  2.3e-8,1.3e-8,3.3e-8,6e-9,1.8e-8,2.8e-8,9.5e-9,3.6e-8,1.5e-8,4.5e-9,2.2e-8,3e-8,1.1e-8,2.6e-8,7.5e-9,1.7e-8,3.8e-8,2.5e-9,2e-8,1.2e-8,2.9e-8,8.5e-9,1.6e-8,3.4e-8,5.5e-9,2.4e-8,1.4e-8,3.1e-8,1e-8,2.1e-8,1.9e-9,2.7e-8];

// Br(Z -> tau+ e-)
var brZTauE = [
  3e-13,2e-9,6e-11,5e-13,8e-10,1.5e-12,4e-9,2e-13,3e-11,7e-13,1e-9,4e-13,2.5e-10,6e-9,2.5e-13,1e-11,3e-9,8e-13,
  1.5e-9,4e-13,5e-10,2.2e-13,3e-9,1.5e-10,6e-13,8e-12,2e-9,3.5e-13,5e-11,1e-12,6e-9,2.8e-13,1.2e-9,2e-11,5e-13,4e-10,1.8e-13,2.5e-9,7e-13,9e-11,
  4e-9,3.2e-13,1e-10,1.8e-9,6e-13,3e-12,8e-9,2.2e-13,6e-10,4.5e-13,2.5e-11,3e-9,9e-13,1.4e-13,1.2e-9,2e-10,5.5e-13,5e-9,3e-13,4e-11,7e-10,2.6e-13,2.2e-9,8e-13,1.5e-11,4e-13,9e-10,1e-8,1.7e-13,3e-10,
  2.5e-9,5e-13,1.5e-10,7e-9,2.4e-13,1e-9,6e-12,3.8e-13,4e-9,8e-11,6e-13,1.6e-9,2e-13,4e-10,1.2e-8,3e-13,2e-11,3e-9,7e-13,6e-10,1.6e-13,5e-9,2.5e-10,4.5e-13,1.3e-9,9e-12,2.8e-13,8e-9,5e-11,1e-12,2e-9,3.4e-13,1.1e-10,5.5e-9,2e-13,7e-10,
  3.5e-9,4.2e-13,9e-10,2e-10,6.5e-13,6e-9,2.2e-13,1.8e-9,3e-11,3.6e-13,1e-8,7e-10,5e-13,1.2e-11,2.6e-9,1.5e-13,4.5e-9,3e-10,8.5e-13,1.4e-9,2.7e-13,6e-11,7e-9,4e-13,1.1e-9,1.5e-10,2e-13,3e-9,5e-12,6e-13,2e-9,3.2e-13,5e-10,9e-9,1.8e-13,8e-11,4e-9,5e-13,
  2.3e-9,3e-13,6e-10,8e-9,5.5e-13,1.8e-10,1.5e-9,2.2e-13,4e-11,4.5e-9,7.5e-13,1e-9,3.5e-13,1.5e-12,6e-9,2.4e-13,3.5e-10,2.8e-9,6e-13,1.8e-11,1.6e-13,1.2e-8,4.2e-13,8e-10,2e-9,2.9e-13,1e-10,5e-9,8e-13,2.5e-11,1.2e-9,3.8e-13,4e-10,7e-9,2e-13,2.6e-9,6e-11,4.6e-13,
  3.2e-9,5e-13,1.2e-10,6.5e-9,2.6e-13,9e-10,1.8e-9,7e-13,3e-11,4e-9,3.3e-13,5e-10,1e-12,8e-9,1.9e-13,2.4e-9,2e-10,4.4e-13,1.1e-9,1e-11,6e-13,5.5e-9,2.3e-13,7e-10,3e-9,3.6e-13,4e-11,1.5e-9,9e-13,2.8e-10,6e-9,2.7e-13,1.4e-9,1.5e-13,4.5e-9,5.5e-13,8e-11,2.2e-9,
  1.8e-9,4.5e-13,7e-11,2.6e-13,3.5e-9,6e-13,2e-10,1.5e-13,
  4.5e-9,3.2e-13,9e-10,5.5e-13,2.5e-11,2e-13,2.8e-9,7.5e-13,3e-10,4e-13,7e-9,1.2e-12,
  1.4e-9,2.8e-13,6e-11,5e-9,4.8e-13,1.6e-13,2.2e-10,3.5e-9,6.5e-13,8e-12,9e-10,3.7e-13,6.5e-9,2.1e-13,1.2e-10,2.4e-9,8.5e-13,3.5e-11,4.2e-13,1.1e-9,
  5.5e-9,2.5e-13,8e-10,4.5e-11,6e-13,2.2e-9,1.8e-13,3.2e-10,9.5e-9,4.4e-13,1.5e-9,1.2e-11,3e-13,4e-9,7e-13,6e-10,2.3e-13,2.8e-9,9e-11,5.2e-13,1.2e-9,1.5e-13,7.5e-9,3.6e-13,2e-10,3.2e-9,8e-13,4e-12,
  2e-9,5.8e-13,6.5e-10,2.1e-13,5e-9,3.5e-11,4.6e-13,1.6e-9,1.7e-13,3.8e-9,7.2e-13,1.5e-10,8.5e-9,3.3e-13,9e-10,2.5e-13,2.6e-11,3e-9,6.2e-13,4.5e-10,1.4e-13,6e-9,4e-13,1.3e-9,7e-12,2.7e-13,2.4e-9,9e-13,2.8e-10,4.8e-13,
  3.6e-9,2.6e-13,1.1e-9,6.8e-13,7e-11,4.2e-9,1.9e-13,5.5e-10,3.9e-13,1.9e-9,9.5e-12,5.3e-13,6.5e-9,2.3e-13,2.5e-10,8.5e-13,2.7e-9,1.5e-13,1e-9,4.4e-11,3.4e-13,9e-9,6e-13,1.6e-9,2.1e-13,3.8e-10,4.5e-9,7.8e-13,1.5e-11,3e-13,
  2.6e-9,4.1e-13,7.5e-10,2.4e-13,5.5e-9,6.6e-13,1.8e-10,1.7e-13,3.4e-9,5e-11,4.8e-13,1.2e-9,2.9e-13,8.5e-9,7.4e-13,4e-10,2e-13,2.1e-9,1.4e-11,5.6e-13,4.2e-9,3.1e-13,9.5e-10,1.6e-13,6e-9,8.2e-13,2.2e-10,3.8e-13,1.7e-9,2.5e-13,3e-12,5e-9];

// Br(Z -> tau+ mu-)
var brZTauMu = [
  3e-6,2e-11,1.5e-6,4e-7,1.2e-11,2.2e-6,8e-7,3e-11,4.5e-6,1.5e-11,1.2e-6,6e-7,2.5e-11,3.5e-6,9e-12,2e-6,5e-7,1.8e-11,
  1.8e-6,3.5e-11,4e-6,9e-7,1.4e-11,2.6e-6,3e-7,2.2e-11,5e-6,1.3e-6,1e-11,7e-7,3e-6,2.8e-11,1.6e-6,4.2e-6,1.7e-11,2.5e-7,2.2e-6,6e-11,1e-6,1.3e-11,
  3.8e-6,2.4e-11,1.2e-6,5.5e-6,8e-12,2e-6,6e-7,1.9e-11,3.2e-6,1.5e-6,4e-11,4.8e-6,9e-7,1.2e-11,2.7e-6,4e-7,2.6e-11,1.7e-6,5.2e-6,1.5e-11,1.1e-6,3.4e-6,3.2e-11,2.1e-6,7e-7,1e-11,4.4e-6,1.4e-6,2e-11,2.5e-6,
  5e-6,1.6e-11,1.9e-6,3.6e-6,8e-7,2.8e-11,2.4e-6,1.2e-6,1.1e-11,4.6e-6,3e-7,2.2e-11,1.6e-6,3e-6,1.4e-11,6e-6,9e-7,3.5e-11,2e-6,4e-6,9e-12,1.3e-6,2.8e-6,1.8e-11,5.5e-7,4.9e-6,2.5e-11,1.8e-6,3.3e-6,1.3e-11,1.1e-6,2.3e-6,4.5e-11,4.2e-6,7e-7,2e-11,
  3.1e-6,1.5e-6,1.2e-11,5.3e-6,2.2e-6,2.7e-11,1e-6,3.9e-6,1.6e-11,6e-7,2.6e-6,8e-12,4.7e-6,1.4e-6,3.1e-11,2e-6,3.5e-6,1.9e-11,2e-7,5.6e-6,1.1e-11,1.7e-6,2.9e-6,2.3e-11,8e-7,4.3e-6,1.5e-11,1.2e-6,3.7e-6,3.8e-11,2.4e-6,5e-6,1e-11,1.9e-6,6.5e-7,2.1e-11,3.3e-6,1.3e-11,
  4.5e-6,1.3e-6,2.4e-11,2.9e-6,5.8e-6,1.1e-11,1.8e-6,7e-7,3e-11,3.8e-6,2.1e-6,1.5e-11,5.1e-6,1e-6,2.1e-11,3.2e-6,1.5e-7,9e-12,2.5e-6,4.2e-6,1.7e-11,1.4e-6,3.5e-6,2.8e-11,6e-7,4.8e-6,1.2e-11,2.2e-6,1.6e-6,3.4e-11,4e-6,9e-7,1.9e-11,3e-6,5.4e-6,1.4e-11,1.9e-6,2.6e-11,
  2.7e-6,4.6e-6,1.8e-11,1.2e-6,3.4e-6,1.1e-11,2.1e-6,5.2e-6,2.5e-11,8e-7,3.9e-6,1.4e-11,1.6e-6,2.8e-6,3.3e-11,4.4e-6,5e-7,9e-12,2.3e-6,6e-6,2e-11,1.4e-6,3.1e-6,1.3e-11,4.1e-6,1e-6,2.9e-11,2.6e-6,1.8e-6,1.6e-11,5e-6,7e-7,2.2e-11,3.6e-6,1.5e-6,1.2e-11,2.2e-6,4e-11,
  2.5e-6,1.6e-11,4e-6,7e-7,2.6e-11,1.4e-6,1.1e-11,3.3e-6,
  5.2e-6,1.9e-11,1.1e-6,2.9e-6,3.1e-11,6e-7,4.1e-6,1.2e-11,1.9e-6,3.7e-6,2.4e-11,8.5e-7,
  4.6e-6,1.4e-11,2.3e-6,1e-6,3.6e-11,3.6e-6,5.8e-6,1.1e-11,1.6e-6,2.9e-6,2.2e-11,7.5e-7,4.2e-6,1.7e-11,2e-6,5e-6,2.9e-11,1.3e-6,3.1e-6,1e-11,
  3.9e-6,2.3e-11,1.5e-6,5.4e-6,2.6e-6,1.3e-11,8.5e-7,4.4e-6,3e-11,2e-6,3.4e-6,1.6e-11,1.1e-6,5.7e-6,2.1e-11,2.7e-6,4.5e-7,1.2e-11,4.1e-6,1.7e-6,3.8e-11,3.2e-6,5.1e-6,1.5e-11,2.2e-6,9.5e-7,2.7e-11,4.7e-6,
  2.8e-6,1.8e-11,4.9e-6,1.3e-6,3.4e-11,3.7e-6,2.1e-6,1.1e-11,5.5e-6,7.5e-7,2.4e-11,3e-6,4.4e-6,1.5e-11,1.6e-6,5.9e-6,2.9e-11,2.4e-6,1e-6,1.3e-11,4e-6,3.3e-6,2e-11,1.4e-6,5.2e-6,4.2e-11,2.6e-6,3.5e-7,1.7e-11,4.6e-6,
  3.5e-6,2.2e-11,1.7e-6,5.3e-6,1.3e-11,2.6e-6,4.3e-6,3.2e-11,1.2e-6,3.9e-6,1.6e-11,5.9e-6,2.3e-6,2.5e-11,8e-7,4.6e-6,1.1e-11,3.1e-6,1.9e-6,3.6e-11,5e-6,1.4e-6,1.9e-11,3.6e-6,2.8e-6,1.2e-11,4.9e-6,6.5e-7,2.7e-11,2.1e-6,
  4.2e-6,1.5e-11,2.5e-6,5.6e-6,2.8e-11,1.6e-6,3.7e-6,1.1e-11,4.8e-6,2.2e-6,3.3e-11,1.1e-6,5.3e-6,1.7e-11,3.2e-6,2e-6,2.3e-11,4.5e-6,9e-7,1.3e-11,3.5e-6,5.8e-6,3.9e-11,2.7e-6,1.3e-6,1.9e-11,4.3e-6,3e-6,1.2e-11,5.1e-6,1.8e-6,2.6e-11];

// Br(h -> mu e)
var brHMuE = [
  5e-13,1e-11,2.5e-12,8e-12,3e-13,6e-12,1.2e-11,4e-13,1.5e-12,9e-12,1e-13,2.2e-12,7e-13,5e-12,1.5e-11,3.5e-12,8e-13,2e-12,
  1.1e-11,4e-12,3e-13,7e-12,1e-12,6e-13,1.3e-11,2.5e-12,1.5e-13,5e-12,9e-13,8e-12,3.5e-13,1.8e-12,1e-11,2e-13,6e-12,1.2e-12,4.5e-13,1.5e-11,3e-12,7e-13,
  3e-12,8e-13,6.5e-12,2e-13,1.2e-11,1.5e-12,4.5e-13,4e-12,1e-13,9e-12,2.2e-12,6e-13,1.6e-11,3.5e-13,5e-12,1.1e-12,7.5e-12,2.8e-13,2.6e-12,1.3e-13,1e-11,5e-13,3.2e-12,9e-13,1.4e-12,2.4e-11,2.2e-13,6e-12,4e-13,1.8e-12,
  7e-13,4.5e-12,1.5e-13,1.1e-11,2.5e-12,4e-13,8e-12,1.3e-12,3e-13,5.5e-12,9e-13,1.8e-11,2e-12,6e-13,1.2e-13,3.5e-12,1e-12,7e-12,2.5e-13,1.4e-11,5e-13,2.8e-12,8e-14,1.6e-12,6e-12,3.3e-13,9.5e-12,1.1e-12,4.5e-13,3e-12,2e-13,2e-11,7.5e-13,4e-12,1.4e-12,5.5e-13,
  2.2e-12,5.5e-13,9e-12,1.2e-12,2.5e-13,6e-12,1e-13,3.5e-12,8e-13,1.3e-11,1.7e-12,4e-13,5e-12,1.1e-12,2e-11,3e-13,2.6e-12,7e-13,8e-12,1.5e-13,1.5e-12,4.5e-12,5e-13,1.1e-11,1e-12,2e-13,3.8e-12,9e-13,6.5e-12,3.5e-13,2.2e-11,1.3e-12,6e-13,3e-12,1.2e-13,7e-12,2.1e-12,4.5e-13,
  1.4e-12,6e-12,3e-13,2.5e-12,1.2e-11,7e-13,4e-12,1e-12,1.8e-13,8.5e-12,2e-12,5e-13,1.5e-11,3.2e-12,9e-13,1.1e-13,5.5e-12,1.6e-12,4e-13,2.5e-11,2.8e-12,6.5e-13,7e-12,1.2e-12,2.2e-13,4.5e-12,8e-13,1e-11,1.9e-12,3.5e-13,3.5e-12,1.4e-13,6e-12,1.1e-12,5e-13,1.3e-11,2.3e-12,7.5e-13,
  3e-12,8e-13,1.1e-11,1.5e-12,3e-13,5e-12,1.2e-12,2e-13,7e-12,2.4e-12,6e-13,1.6e-11,4e-12,1e-12,1e-13,2.8e-12,4.5e-13,9e-12,1.7e-12,7e-13,5.5e-12,2.5e-13,1.3e-11,2e-12,5.5e-13,3.6e-12,1.3e-12,1.5e-13,6.5e-12,9e-13,2.1e-11,3.2e-12,4e-13,1.2e-11,1.8e-12,6.5e-13,4.5e-12,1.1e-12,
  3e-12,7e-13,1.3e-11,2e-13,4.5e-12,1.1e-12,6e-13,8e-12,
  2e-12,5e-13,9e-12,1.4e-12,3e-13,6e-12,2.4e-12,8e-13,1.2e-11,4e-13,3.5e-12,1.6e-12,
  5e-12,9e-13,2.7e-12,1.5e-13,1.1e-11,6e-13,3.8e-12,1.3e-12,2.5e-13,7e-12,1.9e-12,4.2e-13,1.4e-11,2.3e-12,7.5e-13,4.5e-12,1.2e-13,1.2e-12,8.5e-12,3.2e-13,
  1.6e-12,6.5e-12,4e-13,2.9e-12,1.2e-11,8e-13,4.2e-12,2e-13,1.7e-12,9e-12,5e-13,3.3e-12,1e-12,1.6e-11,2.5e-13,5.5e-12,1.4e-12,6.5e-13,2.2e-12,1.1e-13,7.5e-12,3.8e-13,2.6e-12,1.1e-11,9e-13,4.8e-12,1.8e-13,1.9e-12,
  3.4e-12,7e-13,1.3e-11,2.1e-12,3.5e-13,5.2e-12,1.1e-12,1.5e-13,8e-12,2.7e-12,5.5e-13,1.9e-11,1.6e-12,8.5e-13,4.4e-12,2.3e-13,1.05e-11,2.9e-12,4.5e-13,6.8e-12,1.3e-12,1.2e-13,3.6e-12,9.5e-13,1.5e-11,2.4e-12,3e-13,5.8e-12,1.8e-12,6.2e-13,
  2.6e-12,5.5e-13,9.5e-12,1.5e-12,2.4e-13,4.8e-12,1.2e-12,7.5e-13,1.4e-11,3.1e-12,4e-13,6.5e-12,1.9e-12,1.3e-13,2.2e-11,3.8e-12,8.5e-13,1.1e-12,5.8e-12,2.9e-13,2.3e-12,1.1e-11,6.5e-13,4.2e-12,1.6e-12,1.7e-13,8.2e-12,2.8e-12,4.6e-13,1.3e-12,
  4e-12,7.2e-13,1.2e-11,1.9e-12,3.2e-13,6.2e-12,1.5e-12,1.6e-13,9e-12,2.6e-12,5.2e-13,1.7e-11,3.4e-12,8.8e-13,1.1e-12,2.2e-13,7.5e-12,2.1e-12,4.2e-13,1.3e-11,4.8e-12,6e-13,1.4e-12,1.2e-13,5.5e-12,2.9e-12,3.6e-13,1e-11,1.7e-12,9.5e-13,3.2e-12,2.6e-13];

// Br(h -> tau e)
var brHTauE = [
  6e-5,2e-4,3e-12,4e-6,5e-5,1e-10,8e-4,2e-6,1.5e-11,3e-4,7e-5,5e-7,1e-4,4e-12,2e-5,6e-4,3e-10,8e-6,
  4e-4,1e-5,5e-11,1.5e-4,3e-6,6e-5,2e-12,7e-4,2.5e-5,8e-7,1e-10,2e-4,5e-6,4e-5,9e-12,1e-3,1.5e-5,3e-7,1e-4,6e-11,5e-4,6e-6,
  3e-4,2e-5,8e-11,7e-5,1.2e-6,5e-4,2e-11,1e-5,2e-4,4e-7,6e-5,1.5e-10,9e-4,3e-6,4e-5,5e-12,1.5e-4,7e-6,2e-7,3e-5,4e-10,6e-4,1e-4,1.2e-5,3e-11,2.5e-4,5e-6,8e-5,1e-12,1.5e-6,
  4e-4,2.5e-5,7e-11,1.2e-4,3e-6,6e-4,5e-5,1e-11,8e-6,2e-4,6e-7,3.5e-5,2e-10,1e-3,1.5e-5,9e-5,3e-12,4e-6,3e-4,1.5e-7,5e-5,4e-11,7e-4,2e-5,1.5e-4,9e-7,6e-11,5e-4,1e-5,6e-5,1.5e-12,2.5e-6,2.5e-4,3e-5,4e-8,1.2e-3,
  2e-4,4e-5,1.2e-10,7e-6,5e-4,1.2e-5,2.5e-11,1e-4,2e-6,8e-4,6e-5,5e-12,3e-4,4e-7,2e-5,9e-11,1.5e-4,5e-6,7e-5,3e-10,1e-3,3e-5,1.5e-6,4e-4,8e-12,9e-5,1e-5,6e-4,2e-7,1.8e-11,2.5e-4,4e-6,5e-5,7e-12,1.5e-3,1.5e-5,3e-6,1.2e-4,
  6e-4,3e-5,4e-11,1.5e-4,8e-6,3e-4,6e-7,1.5e-11,7e-5,2e-5,9e-4,2e-10,4e-6,2e-4,5e-5,3e-12,1e-5,5e-4,1.2e-6,9e-5,6e-11,2.5e-5,1.2e-3,3e-7,1e-4,1.2e-11,5e-6,4e-4,4e-5,8e-11,1.5e-5,7e-4,2e-6,2.5e-4,5e-10,6e-5,6e-8,1e-12,
  3e-4,1.5e-5,2.5e-11,8e-4,5e-5,3e-6,1.5e-4,1e-10,2e-5,5e-4,9e-7,6e-12,7e-5,2e-4,6e-6,4e-11,1.2e-3,3e-5,1.1e-4,4e-7,2e-12,4e-4,1e-5,8e-5,1.5e-10,2.5e-6,6e-4,4e-5,3e-11,2e-4,8e-6,1.5e-6,5e-12,9e-4,2.5e-5,1e-4,5e-11,5e-5,
  1.5e-4,5e-12,3e-5,7e-4,1.2e-6,2e-11,9e-5,4e-4,
  2.5e-4,1.2e-5,8e-11,6e-4,4e-6,1.5e-4,3e-12,5e-5,1e-6,3.5e-4,2e-10,2e-5,
  8e-5,3e-4,1.5e-11,2e-5,6e-6,7e-4,4e-11,1.5e-4,3e-7,4e-5,1e-12,5e-4,1e-5,2e-10,2e-4,8e-7,6e-5,7e-12,1.2e-4,3e-6,
  5e-4,1.8e-5,6e-11,9e-7,2e-6,3e-4,8e-12,4e-5,1e-4,5e-7,2e-11,7e-4,7e-6,2.5e-4,1.5e-10,3e-5,6e-4,1.5e-6,4e-12,1.5e-4,1.2e-5,8e-8,4e-4,5e-11,6e-5,2.5e-6,2e-4,9e-11,
  3e-4,2e-5,3e-11,8e-4,5e-6,1.2e-6,1e-11,6e-5,4e-7,5e-4,2.5e-5,6e-12,2e-4,1e-6,7e-5,2.5e-10,4e-4,1.2e-5,4e-11,1e-4,3e-6,9e-4,1.5e-12,4e-5,1.5e-4,7e-7,1.5e-11,6e-4,8e-6,3e-5,
  2e-4,5e-5,1.2e-11,7e-4,3e-6,3e-7,7e-11,2e-5,5e-4,6e-7,3e-12,1.5e-4,1e-5,4e-4,3e-10,6e-5,1.5e-6,2.5e-4,2e-11,8e-5,1e-3,5e-6,9e-12,3e-5,3e-4,1e-7,5e-11,1.2e-4,2e-5,6e-4,
  4e-4,3e-5,4e-12,2e-6,6e-6,7e-4,2e-11,5e-5,2e-4,1.2e-6,8e-11,3e-4,1.5e-5,1e-3,3e-10,7e-5,2.5e-4,4e-6,1e-11,1.5e-4,4e-5,6e-7,5e-4,7e-12,5e-7,2e-5,2.5e-11,6e-4,8e-6,1.2e-4,1.5e-10,3e-5];

// Br(h -> tau mu)
var brHTauMu = [
  5.2e-4,2e-9,1.9e-4,8.3e-4,6.1e-9,1.1e-4,3.2e-4,4e-10,4.6e-5,6.4e-4,1.2e-8,1.5e-4,3.1e-9,2.5e-5,4.3e-4,8e-10,7.1e-4,1e-6,
  2.8e-4,5.3e-9,9.2e-4,1.2e-4,1.5e-9,4.6e-4,6.3e-5,1e-8,2.2e-4,6e-10,6.8e-4,3e-6,2.4e-9,3.6e-4,8.1e-5,4.2e-9,5.7e-4,1.4e-4,2e-10,7.7e-4,8.6e-9,2.6e-4,
  6.2e-4,1.8e-9,9.5e-5,4.1e-4,6.8e-9,2.1e-5,8.6e-4,5e-10,2.4e-4,1.5e-8,4.8e-4,3e-7,2.9e-9,1.6e-4,9.4e-4,1.1e-9,3.3e-4,5.8e-5,5.9e-9,7.3e-4,1.8e-4,3.2e-10,5.4e-4,1e-5,2.1e-9,3.9e-4,1.3e-4,8.8e-9,6.6e-4,3.8e-5,
  2.9e-4,3.8e-9,8.1e-4,1.6e-4,1.2e-9,4.9e-4,7.2e-5,7.7e-9,1.05e-3,2.6e-4,6.2e-10,4.2e-4,2e-6,3.3e-9,6.9e-4,1.05e-4,1.3e-8,5.6e-4,2.1e-4,1.6e-9,8.9e-4,4.3e-5,4.8e-9,3.4e-4,6.1e-4,2.5e-10,1.45e-4,7.9e-4,2.2e-9,4.4e-4,5e-7,1.05e-8,2.3e-4,7.4e-4,8.4e-10,3.1e-4,
  6.3e-4,2.7e-9,1.9e-4,9.1e-4,1.05e-9,3.8e-4,8.4e-5,7.2e-9,1.15e-3,2.9e-4,4.1e-10,5.1e-4,1.55e-4,1.9e-9,7.2e-4,3.1e-5,1.45e-8,4.2e-4,2.6e-4,5.2e-9,8.2e-4,9.8e-5,1.25e-9,5.9e-4,3e-6,3.6e-9,3.2e-4,9.3e-4,6.4e-10,4.7e-4,2.1e-4,9.6e-9,6.7e-4,5.8e-5,2.4e-9,4.1e-4,1.2e-3,8.2e-9,
  2.4e-4,4.1e-9,7.8e-4,1.5e-4,1.45e-9,5.2e-4,4.9e-5,9.3e-9,1e-3,3.1e-4,5.2e-10,6.2e-4,1.95e-4,2.8e-9,6.9e-4,1e-5,1.2e-8,3.9e-4,1.02e-4,2.1e-9,8.8e-4,3.5e-4,7e-10,5.8e-4,8e-7,6.2e-9,2.15e-4,1.1e-3,9.6e-10,4.9e-4,6.9e-5,4.4e-9,8.4e-4,2.95e-4,3.1e-10,6.4e-4,1.55e-4,2e-8,
  4.1e-4,2.6e-9,9.8e-4,2.05e-4,7.9e-9,5.9e-4,8.8e-5,1.25e-9,3.05e-4,8.2e-4,3.9e-9,4.8e-4,2e-5,6.1e-10,6.9e-4,1.52e-4,1.02e-8,1.2e-3,3.7e-4,3.1e-9,2.45e-4,8.7e-4,1.55e-9,5.3e-4,4e-6,5.8e-9,2.85e-4,7.3e-4,2e-10,9.6e-5,6.3e-4,1.8e-8,4.6e-4,1.85e-4,3.4e-9,7.9e-4,5.1e-5,9.2e-10,
  4.4e-4,3.5e-9,8.8e-4,1.3e-4,9e-10,5.6e-4,6.5e-9,2.7e-4,
  7.4e-4,2.2e-9,1.7e-4,4.8e-4,7.3e-9,9.6e-4,1.4e-9,3.1e-4,5.5e-5,4.6e-9,6.1e-4,1.1e-8,
  2.3e-4,3.4e-9,7.8e-4,1.4e-4,8.5e-10,5e-4,3.6e-4,6.4e-9,1.1e-3,2.7e-4,1.7e-9,6.5e-4,8.2e-5,9.8e-9,4.3e-4,2e-6,2.6e-9,8.1e-4,1.9e-4,5.4e-10,
  6.8e-4,4.4e-9,3.4e-4,9.5e-4,1.3e-9,1.7e-4,5.3e-4,7.7e-9,2.8e-4,7.6e-4,3.7e-10,4.1e-4,1.2e-4,2.9e-9,6.1e-4,3.5e-5,1.16e-8,8.6e-4,2.4e-4,5.5e-9,4.7e-4,1e-3,1.9e-9,3.2e-4,6.6e-5,8.8e-9,7.1e-4,2e-4,
  5.6e-4,3.9e-9,8.9e-4,2.2e-4,1.1e-9,4.4e-4,6.9e-4,6.7e-9,1.35e-4,3.7e-4,2.3e-9,9.7e-4,5.1e-4,4.5e-10,2.6e-4,7.7e-4,1.25e-8,4e-5,3.4e-4,4.9e-9,6.2e-4,1.7e-4,1.6e-9,8.3e-4,4.6e-4,8.5e-9,2.8e-4,1.1e-3,3e-9,5.8e-4,
  3.3e-4,5.6e-9,7.6e-4,1.8e-4,2e-9,5.5e-4,9.9e-4,7.4e-10,2.5e-4,4.3e-4,1.02e-8,6.8e-4,1.15e-4,3.5e-9,8.5e-4,3.8e-4,1.3e-9,5.1e-4,2.3e-5,7.1e-9,7.2e-4,2.1e-4,4.2e-10,9.2e-4,4.6e-4,2.6e-9,6e-4,1.6e-4,1.5e-8,3.6e-4,
  7.5e-4,3.3e-9,2.6e-4,9.4e-4,1.2e-9,5e-4,1.8e-4,6.9e-9,6.7e-4,3.4e-4,2.1e-9,1.05e-3,4.2e-4,4.7e-10,8.1e-4,2.3e-4,9.1e-9,5.7e-4,7.8e-5,2.8e-9,7e-4,3.9e-4,1.4e-8,1.3e-4,6e-4,1.8e-9,8.9e-4,2.9e-4,5.3e-9,4.8e-4,1.1e-3,7.6e-10];

// dashed grid lines
var gridX1 = [0.0515, 0.0520];
var gridY1 = [2.0, 2.5, 3.0, 3.5, 4.0, 4.5];
var gridXLog = [0.0510, 0.0512, 0.0514, 0.0516, 0.0518, 0.0520, 0.0522, 0.0524];
var gridY2 = [9.5e-14, 1.32e-11, 1.95e-9];
var gridY3 = [1.26e-11, 1.82e-9, 2.88e-7];
var gridY4 = [9.3e-14, 1.45e-11, 2.19e-9, 2.88e-7, 4.68e-5];

// tick labels
var xTicks1 = [0.0510, 0.0515, 0.0520, 0.0525];
var yTicks1 = [2.0, 2.5, 3.0, 3.5, 4.0, 4.5, 5.0];
var xTicksLog = [0.0510, 0.0512, 0.0514, 0.0516, 0.0518, 0.0520, 0.0522, 0.0524];
var yTicks2 = [1e-14, 1e-12, 1e-10, 1e-8];
var yTicks3 = [1e-13, 1e-11, 1e-9, 1e-7, 1e-5];
var yTicks4 = [1e-13, 1e-11, 1e-9, 1e-7, 1e-5, 1e-3];

var GREEN = '#3ee03e', BLUE = '#1b1bd6', RED = '#ee1c1c';
var FONT = '"Liberation Sans", Arial, sans-serif';

var svg = d3.select('body').append('svg').attr('width', 843).attr('height', 623);
var defs = svg.append('defs');

function makePanel(p) {
  p.g = svg.append('g');
  p.x = d3.scaleLinear().domain(p.xDomain).range([p.left, p.right]);
  p.y = (p.log ? d3.scaleLog() : d3.scaleLinear()).domain(p.yDomain).range([p.bottom, p.top]);
  defs.append('clipPath').attr('id', 'clip' + p.id).append('rect')
    .attr('x', p.left).attr('y', p.top).attr('width', p.right - p.left).attr('height', p.bottom - p.top);
  var grid = p.g.append('g').attr('clip-path', 'url(#clip' + p.id + ')');
  grid.selectAll('line.gx').data(p.gridX).enter().append('line')
    .attr('x1', function(d) { return p.x(d); }).attr('x2', function(d) { return p.x(d); })
    .attr('y1', p.top).attr('y2', p.bottom);
  grid.selectAll('line.gy').data(p.gridY).enter().append('line')
    .attr('y1', function(d) { return p.y(d); }).attr('y2', function(d) { return p.y(d); })
    .attr('x1', p.left).attr('x2', p.right);
  grid.selectAll('line').attr('stroke', '#222').attr('stroke-width', 1.3).attr('stroke-dasharray', '5,4');
  p.marks = p.g.append('g').attr('clip-path', 'url(#clip' + p.id + ')');
  return p;
}

function finishPanel(p) {
  var g = p.g.append('g');
  g.append('rect').attr('x', p.left).attr('y', p.top)
    .attr('width', p.right - p.left).attr('height', p.bottom - p.top)
    .attr('fill', 'none').attr('stroke', '#a8a8a8').attr('stroke-width', 1);

  g.append('g').attr('transform', 'translate(0,' + p.bottom + ')')
    .call(d3.axisBottom(p.x).tickValues(p.xTicks).tickSize(-4).tickPadding(6).tickFormat(d3.format('.4f')));
  g.append('g').attr('transform', 'translate(0,' + p.bottom + ')')
    .call(d3.axisBottom(p.x).tickValues(p.xMinor).tickSize(-2).tickFormat(''));
  g.append('g').attr('transform', 'translate(0,' + p.top + ')')
    .call(d3.axisTop(p.x).tickValues(p.xTicks).tickSize(-4).tickFormat(''));
  g.append('g').attr('transform', 'translate(0,' + p.top + ')')
    .call(d3.axisTop(p.x).tickValues(p.xMinor).tickSize(-2).tickFormat(''));

  var ly = g.append('g').attr('transform', 'translate(' + p.left + ',0)')
    .call(d3.axisLeft(p.y).tickValues(p.yTicks).tickSize(-4).tickPadding(p.log ? 7 : 3.5)
      .tickFormat(p.log ? function() { return '10'; } : d3.format('.1f')));
  g.append('g').attr('transform', 'translate(' + p.left + ',0)')
    .call(d3.axisLeft(p.y).tickValues(p.yMinor).tickSize(-2).tickFormat(''));
  g.append('g').attr('transform', 'translate(' + p.right + ',0)')
    .call(d3.axisRight(p.y).tickValues(p.yTicks).tickSize(-4).tickFormat(''));
  g.append('g').attr('transform', 'translate(' + p.right + ',0)')
    .call(d3.axisRight(p.y).tickValues(p.yMinor).tickSize(-2).tickFormat(''));

  if (p.log) {
    ly.selectAll('.tick text').each(function(d) {
      var e = Math.round(Math.log10(d));
      d3.select(this).append('tspan').attr('dy', '-0.5em').attr('font-size', 9).text('\u2212' + (-e));
    });
  }
  g.selectAll('.domain').remove();
  g.selectAll('.tick line').attr('stroke', '#a0a0a0');
  g.selectAll('g').attr('font-family', FONT).attr('font-size', 12);
  g.selectAll('.tick text').attr('fill', '#808080');

  var t = g.append('text').attr('x', p.titleX).attr('y', p.titleY).attr('text-anchor', 'middle')
    .attr('font-size', 15).attr('fill', '#7a7a7a');
  t.append('tspan').attr('font-style', 'italic').text('m');
  t.append('tspan').attr('font-size', 10).attr('dy', 3).text('n2');
  t.append('tspan').attr('dy', -3).text('[eV]');
}

function pairs(xs, ys) {
  var out = [];
  for (var i = 0; i < xs.length && i < ys.length; i++) {
    if (ys[i] != null) out.push([xs[i], ys[i]]);
  }
  return out;
}

function drawDots(p, data, color) {
  p.marks.selectAll(null).data(data).enter().append('circle')
    .attr('cx', function(d) { return p.x(d[0]); })
    .attr('cy', function(d) { return p.y(d[1]); })
    .attr('r', 2.2).attr('fill', color).attr('stroke', '#2cc02c').attr('stroke-width', 0.4);
}
function drawRings(p, data, color) {
  p.marks.selectAll(null).data(data).enter().append('circle')
    .attr('cx', function(d) { return p.x(d[0]); })
    .attr('cy', function(d) { return p.y(d[1]); })
    .attr('r', 2.4).attr('fill', 'none').attr('stroke', color).attr('stroke-width', 1.25);
}
function drawCrosses(p, data, color) {
  p.marks.selectAll(null).data(data).enter().append('path')
    .attr('transform', function(d) { return 'translate(' + p.x(d[0]) + ',' + p.y(d[1]) + ')'; })
    .attr('d', 'M-4,0H4M0,-4V4').attr('stroke', color).attr('stroke-width', 1.7);
}
function drawBars(p, data, color) {
  p.marks.selectAll(null).data(data).enter().append('line')
    .attr('x1', function(d) { return p.x(d[0]); }).attr('x2', function(d) { return p.x(d[0]); })
    .attr('y1', function(d) { return p.y(d[1]) - 3.5; }).attr('y2', function(d) { return p.y(d[1]) + 3.5; })
    .attr('stroke', color).attr('stroke-width', 1.7);
}
function drawDashes(p, data, color) {
  p.marks.selectAll(null).data(data).enter().append('line')
    .attr('x1', function(d) { return p.x(d[0]) - 3.8; }).attr('x2', function(d) { return p.x(d[0]) + 3.8; })
    .attr('y1', function(d) { return p.y(d[1]); }).attr('y2', function(d) { return p.y(d[1]); })
    .attr('stroke', color).attr('stroke-width', 1.9);
}

// legend: parts are [text, style]
function legendLabel(x, y, parts) {
  var t = svg.append('text').attr('x', x).attr('y', y).attr('font-size', 14).attr('fill', '#1a1a1a')
    .attr('font-family', FONT);
  var prev = 0;
  parts.forEach(function(pt) {
    var st = pt[1] || '';
    var shift = st.indexOf('sup') === 0 ? -6 : (st.indexOf('sub') === 0 ? 3 : 0);
    var s = t.append('tspan').text(pt[0]).attr('dy', shift - prev);
    if (st === 'i' || st === 'subi') s.attr('font-style', 'italic');
    if (shift !== 0) s.attr('font-size', 10);
    prev = shift;
  });
}
function legendMark(kind, x, y, color) {
  if (kind === 'ring') svg.append('circle').attr('cx', x).attr('cy', y).attr('r', 2).attr('fill', 'none').attr('stroke', color).attr('stroke-width', 1);
  if (kind === 'dot') svg.append('circle').attr('cx', x).attr('cy', y).attr('r', 1.7).attr('fill', '#f07a7a').attr('stroke', color).attr('stroke-width', 0.6);
  if (kind === 'cross') svg.append('path').attr('d', 'M' + (x - 3) + ',' + y + 'H' + (x + 3) + 'M' + x + ',' + (y - 3) + 'V' + (y + 3)).attr('stroke', color).attr('stroke-width', 1.2);
  if (kind === 'bar') svg.append('line').attr('x1', x).attr('x2', x).attr('y1', y - 2.5).attr('y2', y + 2.5).attr('stroke', color).attr('stroke-width', 1.3);
  if (kind === 'dash') svg.append('line').attr('x1', x - 3).attr('x2', x + 3).attr('y1', y).attr('y2', y).attr('stroke', color).attr('stroke-width', 1.5);
}

function decades(a, b) { var r = []; for (var e = a; e <= b; e++) r.push(Math.pow(10, e)); return r; }

// ---- panel 1 (top-left)
var p1 = makePanel({ id: 'a', left: 29.5, right: 398, top: 38, bottom: 266.5, log: false,
  xDomain: [0.0509, 0.05255], yDomain: [1.8, 5.0], gridX: gridX1, gridY: gridY1,
  xTicks: xTicks1, xMinor: d3.range(0.0509, 0.05256, 0.0001), yTicks: yTicks1, yMinor: d3.range(1.8, 5.01, 0.1),
  titleX: 213, titleY: 297 });
drawDots(p1, aeData, GREEN);
drawCrosses(p1, amuData, BLUE);
finishPanel(p1);

// ---- panel 2 (top-right)
var p2 = makePanel({ id: 'b', left: 490, right: 845.5, top: 45.7, bottom: 265.7, log: true,
  xDomain: [0.0509, 0.0525], yDomain: [1e-15, 1e-7], gridX: gridXLog, gridY: gridY2,
  xTicks: xTicksLog, xMinor: d3.range(0.0509, 0.05251, 0.00005), yTicks: yTicks2, yMinor: decades(-15, -7),
  titleX: 667, titleY: 305 });
drawRings(p2, pairs(mn2, brMuEGamma), RED);
drawBars(p2, pairs(mn2, brTauEGamma), BLUE);
drawDashes(p2, pairs(mn2, brTauMuGamma), GREEN);
finishPanel(p2);

// ---- panel 3 (bottom-left)
var p3 = makePanel({ id: 'c', left: 44.3, right: 400, top: 356.7, bottom: 575.7, log: true,
  xDomain: [0.0509, 0.0525], yDomain: [Math.pow(10, -13.1), Math.pow(10, -4.34)], gridX: gridXLog, gridY: gridY3,
  xTicks: xTicksLog, xMinor: d3.range(0.0509, 0.05251, 0.00005), yTicks: yTicks3, yMinor: decades(-13, -5),
  titleX: 222, titleY: 615 });
drawRings(p3, pairs(mn2, brZMuE), RED);
drawBars(p3, pairs(mn2, brZTauE), BLUE);
drawDashes(p3, pairs(mn2, brZTauMu), GREEN);
finishPanel(p3);

// ---- panel 4 (bottom-right)
var p4 = makePanel({ id: 'd', left: 490, right: 845.5, top: 355.7, bottom: 575.7, log: true,
  xDomain: [0.0509, 0.0525], yDomain: [1e-14, Math.pow(10, -2.33)], gridX: gridXLog, gridY: gridY4,
  xTicks: xTicksLog, xMinor: d3.range(0.0509, 0.05251, 0.00005), yTicks: yTicks4, yMinor: decades(-14, -3),
  titleX: 667, titleY: 615 });
drawRings(p4, pairs(mn2, brHMuE), RED);
drawBars(p4, pairs(mn2, brHTauE), BLUE);
drawDashes(p4, pairs(mn2, brHTauMu), GREEN);
finishPanel(p4);

// ---- legends
legendMark('ring', 114, 13, GREEN);
legendLabel(133, 18, [['\u0394a'], ['e', 'subi'], ['\u00d710'], ['13', 'sup']]);
legendMark('cross', 214, 13, BLUE);
legendLabel(232, 18, [['\u0394a'], ['\u03bc', 'subi'], ['\u00d710'], ['9', 'sup']]);

function hLegend(y, labels, pos) {
  legendMark(pos.kinds[0], pos.m[0], y, RED);
  legendLabel(pos.t[0], y + 5, labels[0]);
  legendMark('bar', pos.m[1], y, BLUE);
  legendLabel(pos.t[1], y + 5, labels[1]);
  legendMark('dash', pos.m[2], y, GREEN);
  legendLabel(pos.t[2], y + 5, labels[2]);
}
hLegend(26.7, [
  [['Br('], ['\u03bc', 'i'], ['\u2192e'], ['\u03b3', 'i'], [')']],
  [['Br('], ['\u03c4', 'i'], ['\u2192e'], ['\u03b3', 'i'], [')']],
  [['Br('], ['\u03c4', 'i'], ['\u2192'], ['\u03bc\u03b3', 'i'], [')']]
], { kinds: ['dot'], m: [511.7, 613, 710], t: [532.7, 631, 727] });
hLegend(338.3, [
  [['Br(Z\u2192'], ['\u03bc', 'i'], ['+', 'sup'], ['e', 'i'], ['\u2212', 'sup'], [')']],
  [['Br(Z\u2192'], ['\u03c4', 'i'], ['+', 'sup'], ['e', 'i'], ['\u2212', 'sup'], [')']],
  [['Br(Z\u2192'], ['\u03c4', 'i'], ['+', 'sup'], ['\u03bc', 'i'], ['\u2212', 'sup'], [')']]
], { kinds: ['ring'], m: [46, 160.7, 273], t: [65, 178, 288] });
hLegend(336.7, [
  [['Br(h\u2192'], ['\u03bc', 'i'], ['e)']],
  [['Br(h\u2192'], ['\u03c4', 'i'], ['e)']],
  [['Br(h\u2192'], ['\u03c4\u03bc', 'i'], [')']]
], { kinds: ['dot'], m: [511.7, 613, 710], t: [532.7, 631, 727] });
</script>
</body>
</html>
